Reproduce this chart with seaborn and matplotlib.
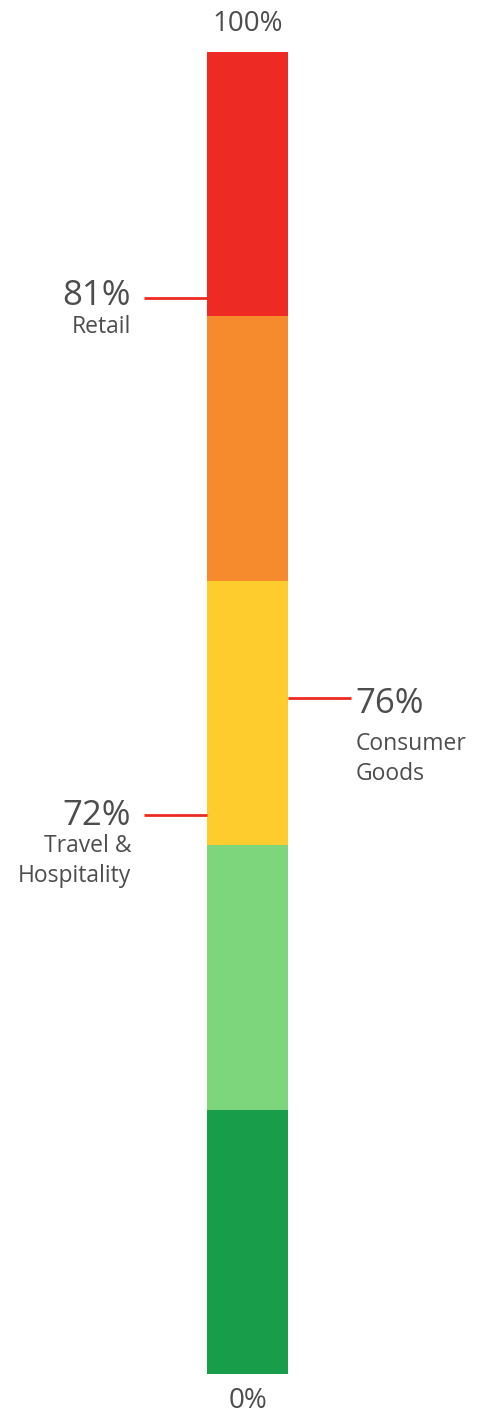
import matplotlib
matplotlib.use("Agg")
import matplotlib.pyplot as plt
import seaborn as sns
import pandas as pd

# scale bands, bottom to top (each 20 points of the scale)
band_tops = [20, 40, 60, 80, 100]
band_colors = ["#189D4A", "#7ED67C", "#FECD2D", "#F68B2E", "#EE2A24"]

# callouts
labels = ["Retail", "Consumer\nGoods", "Travel &\nHospitality"]
values = ["81%", "76%", "72%"]
marker_pos = [81.4, 51.1, 42.3]   # where the pointer line meets the bar
sides = ["left", "right", "left"]

axis_labels = ["0%", "100%"]

W, H, DPI = 484, 1414, 100
TXT = "#4D4D4D"
LINE = "#EE2A24"

sns.set_theme(style="white")
plt.rcParams["font.family"] = ["Open Sans", "DejaVu Sans"]

fig = plt.figure(figsize=(W / DPI, H / DPI), dpi=DPI)
ax = fig.add_axes([0, 0, 1, 1])

# bar spans pixels x 207..288, y 52..1374 (from top)
bar_px = 81
cx = 247.5
px_per_unit = (1374 - 52) / 100

# overlaid bars, tallest first -> looks like a stacked column
df = pd.DataFrame({"x": ["bar"] * 5, "top": band_tops[::-1], "band": [str(t) for t in band_tops[::-1]]})
sns.barplot(data=df, x="x", y="top", hue="band", palette=band_colors[::-1],
            dodge=False, width=1.0, saturation=1, legend=False, linewidth=0, ax=ax)
ax.set_xlim(-cx / bar_px, (W - cx) / bar_px)
ax.set_ylim(-(H - 1374) / px_per_unit, 100 + 52 / px_per_unit)
ax.axis("off")


def px(x, y):
    # pixel coords (origin top-left) -> figure fraction
    return x / W, 1 - y / H


line_len = 63 / bar_px
for pos, side in zip(marker_pos, sides):
    if side == "left":
        ax.plot([-0.5 - line_len, -0.5], [pos, pos], color=LINE, lw=2, solid_capstyle="butt")
    else:
        ax.plot([0.5, 0.5 + line_len], [pos, pos], color=LINE, lw=2, solid_capstyle="butt")

# callout texts (pixel positions)
VAL_FS, LAB_FS = 25, 16.5
# (x, value baseline, first label baseline, alignment)
spots = [(131, 305, 333, "right"), (355, 713, 750, "left"), (131, 825, 852, "right")]
for val, lab, (x, yv, yl, ha) in zip(values, labels, spots):
    fig.text(*px(x, yv), val, ha=ha, va="baseline", fontsize=VAL_FS, color=TXT)
    for i, line in enumerate(lab.split("\n")):
        fig.text(*px(x + (1 if ha == "left" else 0), yl + 30 * i), line,
                 ha=ha, va="baseline", fontsize=LAB_FS, color=TXT)

fig.text(*px(cx, 31), axis_labels[1], ha="center", va="baseline", fontsize=20, color=TXT)
fig.text(*px(cx, 1408), axis_labels[0], ha="center", va="baseline", fontsize=20, color=TXT)

fig.savefig("out.png", dpi=DPI, facecolor="white")
